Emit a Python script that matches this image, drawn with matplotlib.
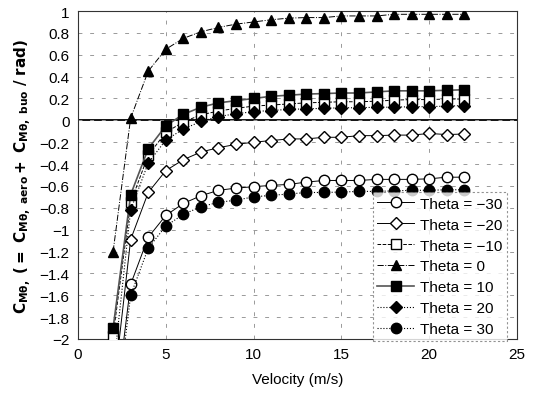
import matplotlib
matplotlib.use("Agg")
import matplotlib.pyplot as plt
from matplotlib.ticker import FuncFormatter, MultipleLocator

plt.rcParams['font.family'] = ['Liberation Sans', 'DejaVu Sans']

velocity = list(range(2, 23))

theta_m30 = [-2.8, -1.50, -1.07, -0.87, -0.76, -0.69, -0.64, -0.62, -0.607, -0.595, -0.586,
             -0.565, -0.55, -0.55, -0.55, -0.54, -0.54, -0.54, -0.535, -0.52, -0.52]
theta_m20 = [-2.5, -1.09, -0.66, -0.46, -0.36, -0.29, -0.25, -0.22, -0.20, -0.185, -0.17,
             -0.17, -0.155, -0.155, -0.14, -0.14, -0.135, -0.135, -0.12, -0.13, -0.125]
theta_m10 = [-1.97, -0.75, -0.32, -0.11, -0.015, 0.05, 0.085, 0.11, 0.13, 0.14, 0.15,
             0.16, 0.165, 0.17, 0.17, 0.175, 0.185, 0.19, 0.19, 0.195, 0.195]
theta_0 = [-1.20, 0.02, 0.45, 0.65, 0.75, 0.81, 0.85, 0.88, 0.90, 0.92, 0.935,
           0.94, 0.94, 0.955, 0.955, 0.955, 0.97, 0.97, 0.97, 0.97, 0.97]
theta_10 = [-1.90, -0.68, -0.26, -0.05, 0.055, 0.12, 0.16, 0.18, 0.20, 0.22, 0.23,
            0.24, 0.245, 0.25, 0.25, 0.26, 0.27, 0.27, 0.27, 0.275, 0.28]
theta_20 = [-2.3, -0.82, -0.39, -0.18, -0.08, -0.01, 0.035, 0.06, 0.08, 0.09, 0.10,
            0.105, 0.11, 0.115, 0.115, 0.12, 0.12, 0.125, 0.125, 0.13, 0.135]
theta_30 = [-2.9, -1.60, -1.17, -0.967, -0.86, -0.79, -0.75, -0.73, -0.70, -0.686, -0.674,
            -0.66, -0.66, -0.656, -0.65, -0.65, -0.645, -0.64, -0.64, -0.635, -0.635]

labels = ['Theta = \u221230', 'Theta = \u221220', 'Theta = \u221210', 'Theta = 0',
          'Theta = 10', 'Theta = 20', 'Theta = 30']
series = [theta_m30, theta_m20, theta_m10, theta_0, theta_10, theta_20, theta_30]
styles = [
    dict(marker='o', mfc='white', ls='-', color='black', lw=0.7, ms=7.5),
    dict(marker='D', mfc='white', ls='-', color='black', lw=0.7, ms=6),
    dict(marker='s', mfc='white', ls='--', color='black', lw=0.7, ms=7.5),
    dict(marker='^', mfc='black', ls='-.', color='black', lw=0.7, ms=7.5),
    dict(marker='s', mfc='black', ls='-', color='#555555', lw=1.2, ms=7.5),
    dict(marker='D', mfc='black', ls=':', color='black', lw=0.8, ms=6),
    dict(marker='o', mfc='black', ls=':', color='black', lw=0.8, ms=7.5),
]

fig = plt.figure(figsize=(5.33, 4.06), dpi=100)
ax = fig.add_axes([0.1463, 0.1626, 0.8237, 0.8078])

ax.axhline(0, color='black', lw=1.3, zorder=1)
for y, lab, st in zip(series, labels, styles):
    ax.plot(velocity, y, label=lab, mec='black', mew=1.0, zorder=3, **st)

ax.set_xlim(0, 25)
ax.set_ylim(-2, 1)
ax.xaxis.set_major_locator(MultipleLocator(5))
ax.yaxis.set_major_locator(MultipleLocator(0.2))
ax.yaxis.set_major_formatter(FuncFormatter(lambda v, p: ('%g' % round(v, 1)).replace('-', '\u2212') if abs(v) > 1e-9 else '0'))
ax.grid(True, color='#999999', ls=(0, (4, 8)), lw=0.7)
ax.tick_params(length=0, labelsize=11, pad=6)
for s in ax.spines.values():
    s.set_linewidth(0.8)
    s.set_color('#333333')

ax.set_xlabel('Velocity (m/s)', fontsize=11, labelpad=8)
ax.set_ylabel(r'$\mathbf{C_{M\theta,}\ (=\ C_{M\theta,\ aero}+\ C_{M\theta,\ buo}\ /\ rad)}$',
              fontsize=11, labelpad=4)

leg = ax.legend(loc='lower right', bbox_to_anchor=(0.977, -0.005), borderaxespad=0,
                fontsize=11, frameon=True, fancybox=False, handlelength=2.4,
                labelspacing=0.45, borderpad=0.3, handletextpad=0.4)
leg.get_frame().set_edgecolor('#777777')
leg.get_frame().set_linewidth(0.8)
leg.get_frame().set_linestyle((0, (2, 2)))

fig.savefig('out.png', dpi=100)
